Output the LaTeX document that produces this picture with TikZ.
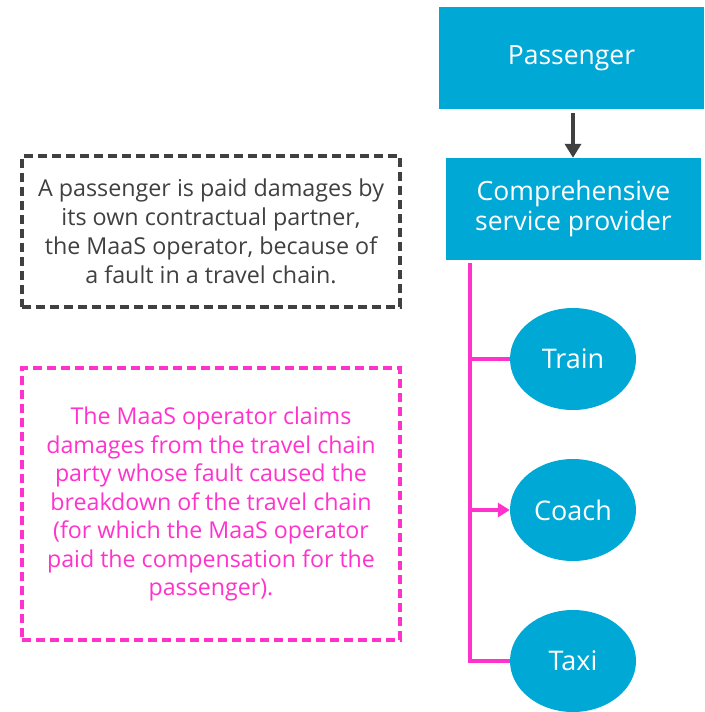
\documentclass[tikz,border=0pt]{standalone}
\usepackage{fontspec}
\setmainfont{Open Sans}
\usetikzlibrary{shapes.geometric,arrows.meta}
\definecolor{mblue}{RGB}{0,168,214}
\definecolor{mpink}{RGB}{255,51,204}
\definecolor{mgray}{RGB}{64,64,64}
\begin{document}
\begin{tikzpicture}[x=1pt,y=-1pt,
  bluebox/.style={fill=mblue,draw=none,text=white,font=\fontsize{26.5}{30}\selectfont,align=center,inner sep=0pt},
  mode/.style={ellipse,fill=mblue,draw=none,text=white,font=\fontsize{27}{30}\selectfont,minimum width=126pt,minimum height=102pt,inner sep=0pt},
  notebox/.style={draw,line width=3.5pt,dash pattern=on 9pt off 5pt,align=center,inner sep=0pt},
  pinkline/.style={draw=mpink,line width=3.5pt},
]
\useasboundingbox (0,0) rectangle (704,712);
\node[bluebox,minimum width=265pt,minimum height=102pt] (pass) at (571.5,58) {Passenger};
\node[bluebox,minimum width=255pt,minimum height=102pt] (csp) at (573.5,209) {Comprehensive\\service provider};
\coordinate (a1) at (573,113);
\draw[mgray,line width=3.5pt,-{Triangle[length=14pt,width=16pt]}] (a1) -- (a1 |- csp.north);
\node[mode] (train) at (573,359) {Train};
\node[mode] (coach) at (573,510) {Coach};
\node[mode] (taxi) at (573,661) {Taxi};
\coordinate (top) at (470,263);
\coordinate (bot) at (470,661);
\draw[pinkline] (top) -- (bot) -- (taxi.west);
\draw[pinkline] (train.west -| top) -- (train.west);
\draw[pinkline,-{Triangle[length=12pt,width=14pt]}] (coach.west -| top) -- (coach.west);
\node[notebox,draw=mgray,text=mgray,minimum width=378pt,minimum height=151pt,font=\fontsize{23.3}{29}\selectfont] (n1) at (211,231.5) {A passenger is paid damages by\\its own contractual partner,\\the MaaS operator, because of\\a fault in a travel chain.};
\node[notebox,draw=mpink,text=mpink,minimum width=378pt,minimum height=272pt,font=\fontsize{23.2}{28.5}\selectfont] (n2) at (211,504) {The MaaS operator claims\\damages from the travel chain\\party whose fault caused the\\breakdown of the travel chain\\(for which the MaaS operator\\paid the compensation for the\\passenger).};
\end{tikzpicture}
\end{document}
